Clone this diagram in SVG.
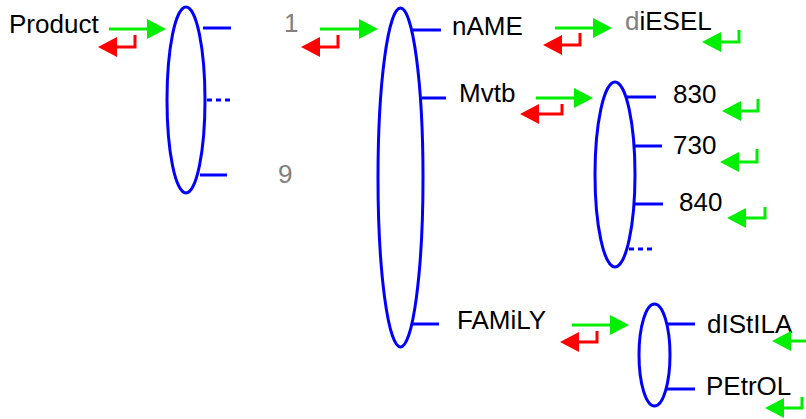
<svg xmlns="http://www.w3.org/2000/svg" width="806" height="419" viewBox="0 0 806 419">
<style>
text{font-family:"Liberation Sans",Arial,sans-serif;font-size:26px;fill:#000}
.g{fill:#808080}
.ell{fill:none;stroke:#0000ff;stroke-width:3}
.br{stroke:#0000ff;stroke-width:3;fill:none}
.dot{stroke:#0000ff;stroke-width:3;stroke-dasharray:5,4;fill:none}
.ga{stroke:#00ee00;stroke-width:3;fill:none;marker-end:url(#mg)}
.ra{stroke:#ff0000;stroke-width:3;fill:none;marker-end:url(#mr)}
.gr{stroke:#00ee00;stroke-width:3;fill:none;marker-end:url(#mg)}
</style>
<defs>
<marker id="mg" markerUnits="userSpaceOnUse" markerWidth="22" markerHeight="22" refX="9" refY="10" orient="auto"><path d="M0,0 L19,10 L0,20 z" fill="#00ee00"/></marker>
<marker id="mr" markerUnits="userSpaceOnUse" markerWidth="22" markerHeight="22" refX="9" refY="10" orient="auto"><path d="M0,0 L19,10 L0,20 z" fill="#ff0000"/></marker>
</defs>
<rect width="806" height="419" fill="#fff"/>
<g id="product"><text x="9" y="33">Product</text></g>
<g id="set1">
<ellipse class="ell" cx="186" cy="100" rx="19" ry="93"/>
<path class="br" d="M203,28 H231 M200,175 H227"/>
<path class="dot" d="M207,100 H231"/>
</g>
<g id="idx1"><text class="g" x="284" y="32">1</text></g>
<g id="idx9"><text class="g" x="278" y="183">9</text></g>
<g id="set2">
<ellipse class="ell" cx="400.5" cy="177.5" rx="22.5" ry="169.5"/>
<path class="br" d="M412,30 H441 M422,98 H446 M412,324 H439"/>
</g>
<g id="name"><text x="452" y="35">nAME</text></g>
<g id="mvtb"><text x="459" y="102">Mvtb</text></g>
<g id="family"><text x="457" y="329">FAMiLY</text></g>
<g id="diesel"><text x="625" y="30"><tspan class="g">d</tspan>iESEL</text></g>
<g id="set3">
<ellipse class="ell" cx="615" cy="174.5" rx="20" ry="92.5"/>
<path class="br" d="M627,97 H656 M633,146 H662 M633,204 H663"/>
<path class="dot" d="M629,249 H653"/>
</g>
<g id="v830"><text x="673" y="103">830</text></g>
<g id="v730"><text x="673" y="154">730</text></g>
<g id="v840"><text x="679" y="211">840</text></g>
<g id="set4">
<ellipse class="ell" cx="654.5" cy="355" rx="15.5" ry="51"/>
<path class="br" d="M667,324 H695 M667,389 H695"/>
</g>
<g id="distila"><text x="707" y="333">dIStILA</text></g>
<g id="petrol"><text x="706" y="395">PEtrOL</text></g>
<g id="connectors">
<path class="ga" d="M109,29 H156"/>
<path class="ga" d="M320,29 H368"/>
<path class="ga" d="M555,28 H602"/>
<path class="ga" d="M536,98 H583"/>
<path class="ga" d="M572,325 H619"/>
<path class="ra" d="M135,35 V47 H108"/>
<path class="ra" d="M338,35 V47 H311"/>
<path class="ra" d="M580,33 V45 H553"/>
<path class="ra" d="M562,104 V114 H530"/>
<path class="ra" d="M597,331 V342 H570"/>
<path class="gr" d="M739,30 V42 H712"/>
<path class="gr" d="M758,99 V111 H732"/>
<path class="gr" d="M757,149 V162 H730"/>
<path class="gr" d="M765,207 V218 H737"/>
<path class="gr" d="M812,330 V341 H782"/>
<path class="gr" d="M802,397 V408 H775"/>
</g>
</svg>
